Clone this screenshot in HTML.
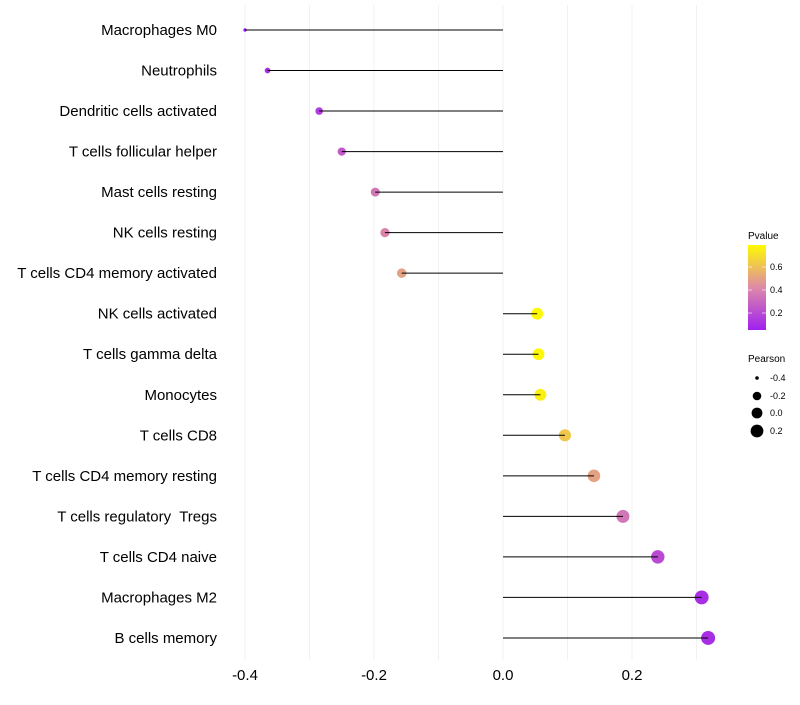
<!DOCTYPE html>
<html><head><meta charset="utf-8"><style>
body{margin:0;background:#fff;font-family:"Liberation Sans",sans-serif}
text{white-space:pre}
</style></head><body>
<svg id="c" width="800" height="700" xmlns="http://www.w3.org/2000/svg">
<defs><linearGradient id="pg" x1="0" y1="1" x2="0" y2="0">
<stop offset="0" stop-color="#A020F0"/><stop offset="0.5" stop-color="#DD8AA8"/><stop offset="1" stop-color="#FFFA00"/>
</linearGradient></defs>
<g id="grid"></g><g id="dots"></g><g id="marks"></g><g id="labels"></g>
<g font-size="10" fill="#000">
<text x="748" y="239">Pvalue</text>
<rect x="748" y="245" width="18" height="85" fill="url(#pg)"/>
<line x1="748" y1="267" x2="752" y2="267" stroke="#fff" opacity=".6"/><line x1="762" y1="267" x2="766" y2="267" stroke="#fff" opacity=".6"/>
<line x1="748" y1="290" x2="752" y2="290" stroke="#fff" opacity=".6"/><line x1="762" y1="290" x2="766" y2="290" stroke="#fff" opacity=".6"/>
<line x1="748" y1="313" x2="752" y2="313" stroke="#fff" opacity=".6"/><line x1="762" y1="313" x2="766" y2="313" stroke="#fff" opacity=".6"/>
<text x="770" y="270" font-size="9">0.6</text><text x="770" y="293" font-size="9">0.4</text><text x="770" y="316" font-size="9">0.2</text>
</g>
<g fill="#000">
<text x="748" y="362" font-size="10">Pearson</text>
<circle cx="757" cy="378" r="1.8"/><text x="770" y="381" font-size="9">-0.4</text>
<circle cx="757" cy="396" r="4.3"/><text x="770" y="399" font-size="9">-0.2</text>
<circle cx="757" cy="413" r="5.4"/><text x="770" y="416" font-size="9">0.0</text>
<circle cx="757" cy="431" r="6.4"/><text x="770" y="434" font-size="9">0.2</text>
</g>
</svg>
<script>
const categories=["Macrophages M0","Neutrophils","Dendritic cells activated","T cells follicular helper","Mast cells resting","NK cells resting","T cells CD4 memory activated","NK cells activated","T cells gamma delta","Monocytes","T cells CD8","T cells CD4 memory resting","T cells regulatory  Tregs","T cells CD4 naive","Macrophages M2","B cells memory"];
const pearson=[-0.40,-0.365,-0.285,-0.25,-0.198,-0.183,-0.157,0.053,0.055,0.058,0.096,0.141,0.186,0.240,0.308,0.318];
const pvalue=[0.05,0.10,0.15,0.25,0.35,0.40,0.50,0.78,0.78,0.76,0.62,0.50,0.35,0.20,0.10,0.10];
const xTicks=[-0.4,-0.2,0.0,0.2];
const xTickLabels=["-0.4","-0.2","0.0","0.2"];
const NS='http://www.w3.org/2000/svg';
const x=v=>503+v*645;
const y=i=>30+i*40.53;
const pMin=Math.min(...pearson),pMax=Math.max(...pearson);
const rS=v=>1.7+5.3*Math.sqrt(Math.max(0,(v-pMin)/(pMax-pMin)));
function lerp(a,b,t){return a.map((c,i)=>Math.round(c+(b[i]-c)*t));}
function col(p){const t=Math.max(0,Math.min(1,(p-0.05)/0.74));
 const s=[[160,32,240],[221,138,168],[255,250,0]];
 const c=t<0.5?lerp(s[0],s[1],t*2):lerp(s[1],s[2],(t-0.5)*2);return `rgb(${c})`;}
function mk(tag,at,par){const e=document.createElementNS(NS,tag);for(const k in at)e.setAttribute(k,at[k]);document.getElementById(par).appendChild(e);return e;}
for(let v=-0.4;v<=0.31;v+=0.1){const g=mk('line',{x1:x(v),x2:x(v),y1:5,y2:660,stroke:'#f1f1f1','stroke-width':1},'grid');
 
 }
categories.forEach((c,i)=>{
 const d=mk('circle',{cx:x(pearson[i]),cy:y(i),r:rS(pearson[i]),fill:col(pvalue[i])},'dots');
 
 
 const l=mk('line',{x1:x(0),x2:x(pearson[i]),y1:y(i),y2:y(i),stroke:'#000','stroke-width':1},'marks');
 
 
 const t=mk('text',{x:217,y:y(i)+5,'text-anchor':'end','font-size':15,fill:'#000'},'labels');t.textContent=c;
 
 
});
xTicks.forEach((v,i)=>{const t=mk('text',{x:x(v),y:680,'text-anchor':'middle','font-size':15,fill:'#000'},'labels');t.textContent=xTickLabels[i];
 
 });
</script>
</body></html>
